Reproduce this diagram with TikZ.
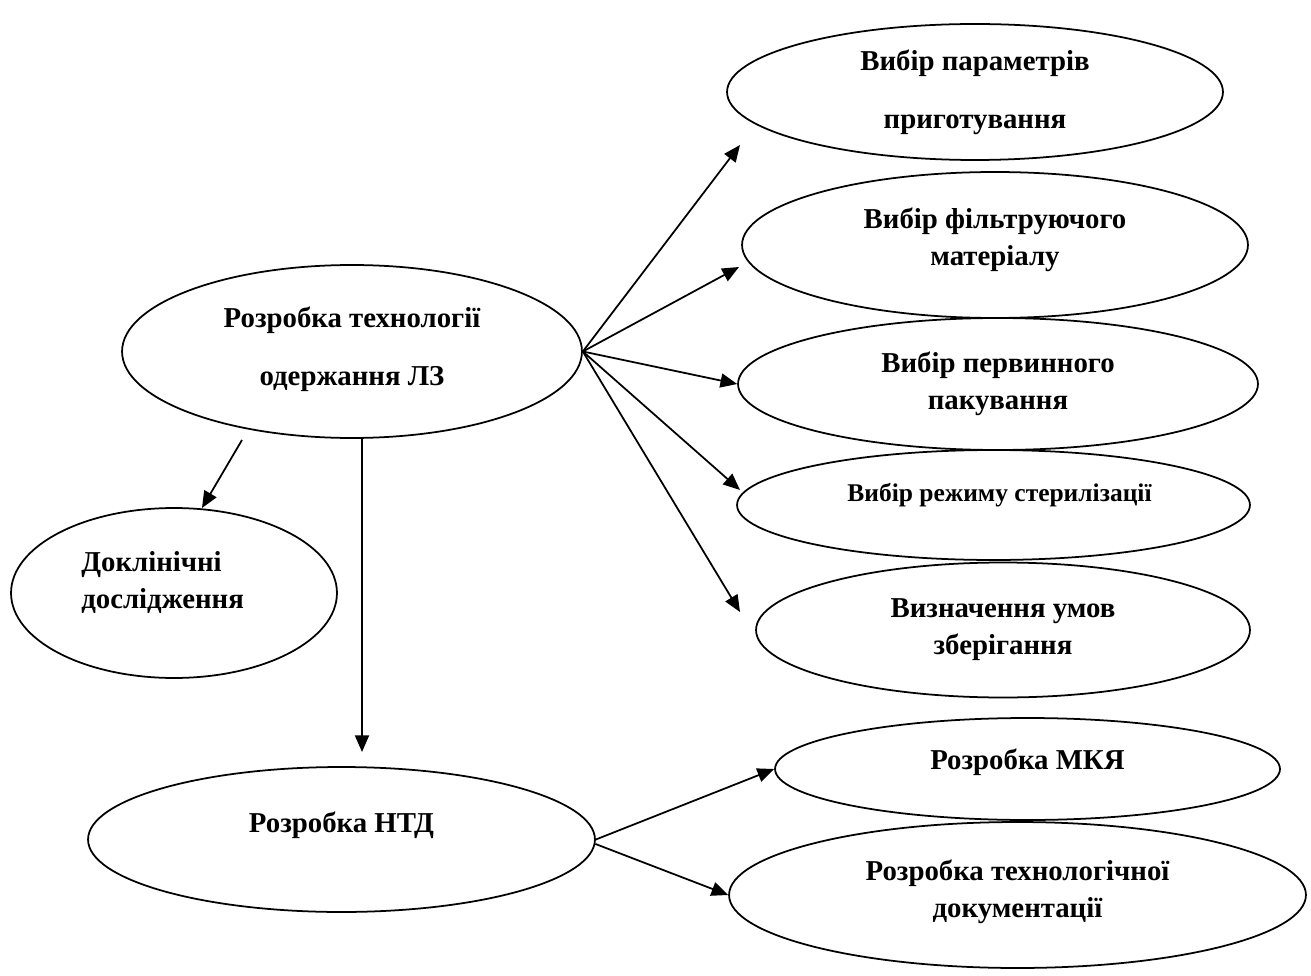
\documentclass[tikz,border=0pt]{standalone}
\usepackage{fontspec}
\setmainfont{Liberation Serif}
\usetikzlibrary{arrows.meta,shapes.geometric}

\tikzset{
  oval/.style={draw, ellipse, line width=1pt, inner sep=0pt},
  lbl/.style={font=\fontsize{16.4}{21}\selectfont\bfseries, align=center},
  arr/.style={-{Triangle[length=9.5pt,width=8pt]}, line width=1pt},
}

\begin{document}
\begin{tikzpicture}[x=0.02cm,y=-0.02cm]
\useasboundingbox (0,0) rectangle (1311,976);

% Main block
\node[oval, minimum width=9.2cm, minimum height=3.46cm,
      label={[lbl, yshift=1.5pt]center:Розробка технології\\[12pt]одержання ЛЗ}] (main) at (352,351.5) {};

% Right column
\node[oval, minimum width=9.92cm, minimum height=2.72cm,
      label={[lbl]center:Вибір параметрів\\[12pt]приготування}] (prep) at (975,92) {};
\node[oval, minimum width=10.12cm, minimum height=2.92cm,
      label={[lbl, yshift=2.8pt]center:Вибір фільтруючого\\матеріалу}] (filt) at (995,245) {};
\node[oval, minimum width=10.4cm, minimum height=2.64cm,
      label={[lbl]center:Вибір первинного\\пакування}] (pack) at (998,384) {};
\node[oval, minimum width=10.26cm, minimum height=2.2cm,
      label={[lbl, font=\fontsize{14.5}{16}\selectfont\bfseries, xshift=3.4pt, yshift=5.7pt]center:Вибір режиму стерилізації}] (ster) at (993.5,505) {};
\node[oval, minimum width=9.88cm, minimum height=2.7cm,
      label={[lbl]center:Визначення умов\\зберігання}] (store) at (1003,630) {};

% Left side
\node[oval, minimum width=6.52cm, minimum height=3.4cm,
      label={[lbl, align=left, xshift=-6.5pt, yshift=6.2pt]center:Доклінічні\\дослідження}] (precl) at (174,593) {};
\node[oval, minimum width=10.14cm, minimum height=2.9cm,
      label={[lbl, yshift=8.2pt]center:Розробка НТД}] (ntd) at (341.5,839.5) {};

% Bottom right
\node[oval, minimum width=10.1cm, minimum height=2.04cm,
      label={[lbl, yshift=4pt]center:Розробка МКЯ}] (mkya) at (1027.5,769) {};
\node[oval, minimum width=11.54cm, minimum height=2.92cm,
      label={[lbl, yshift=1.7pt]center:Розробка технологічної\\документації}] (techdoc) at (1017.5,895) {};

% Free arrow ends
\coordinate (toPrep) at (740,145);
\coordinate (toFilt) at (739,267);
\coordinate (toSter) at (740,490);
\coordinate (toStore) at (740,612);
\coordinate (fromMain) at (242,440);
\coordinate (toPrecl) at (202,508);
\coordinate (toNtd) at (362,752);

% Arrows
\draw[arr] (main.east) -- (toPrep);
\draw[arr] (main.east) -- (toFilt);
\draw[arr] (main.east) -- (pack.west);
\draw[arr] (main.east) -- (toSter);
\draw[arr] (main.east) -- (toStore);
\draw[arr] (fromMain) -- (toPrecl);
\draw[arr] (main.south -| toNtd) -- (toNtd);
\draw[arr] (ntd.east) -- (mkya.west);
\draw[arr] (ntd.-1) -- (techdoc.west);

\end{tikzpicture}
\end{document}
